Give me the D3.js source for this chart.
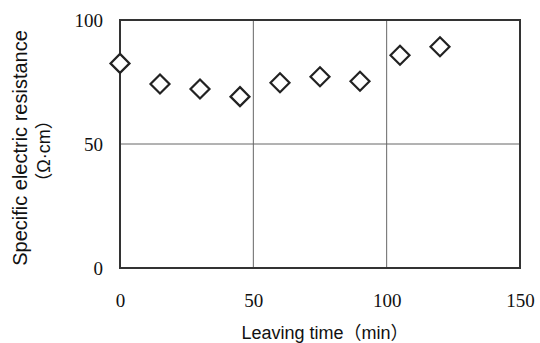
<!DOCTYPE html>
<html><head><meta charset="utf-8">
<script src="https://cdn.jsdelivr.net/npm/d3@7"></script>
<style>body{margin:0;background:#fff}svg{display:block}</style>
</head><body>
<script>
const times = [0, 15, 30, 45, 60, 75, 90, 105, 120];
const resistance = [82.5, 74.2, 72.2, 69.1, 74.7, 77.1, 75.3, 85.8, 89.2];
const xTicks = [0, 50, 100, 150];
const yTicks = [0, 50, 100];
const xTitle = "Leaving time（min）";
const yTitle1 = "Specific electric resistance";
const yTitle2 = "（Ω·cm）";

const W = 540, H = 343;
const svg = d3.select("body").append("svg").attr("width", W).attr("height", H);
const x = d3.scaleLinear().domain([0, 150]).range([120, 520]);
const y = d3.scaleLinear().domain([0, 100]).range([268, 20]);

// grid lines
svg.append("g").selectAll("line.gx").data([50, 100]).join("line")
  .attr("x1", d => x(d)).attr("x2", d => x(d)).attr("y1", y(0)).attr("y2", y(100))
  .attr("stroke", "#666").attr("stroke-width", 1);
svg.append("g").selectAll("line.gy").data([50]).join("line")
  .attr("x1", x(0)).attr("x2", x(150)).attr("y1", d => y(d)).attr("y2", d => y(d))
  .attr("stroke", "#666").attr("stroke-width", 1);

// frame
svg.append("rect").attr("x", x(0)).attr("y", y(100)).attr("width", x(150) - x(0)).attr("height", y(0) - y(100))
  .attr("fill", "none").attr("stroke", "#333").attr("stroke-width", 2);

// axes labels via d3 axes (no lines)
const xAxis = svg.append("g").attr("transform", `translate(0,${y(0)})`)
  .call(d3.axisBottom(x).tickValues(xTicks).tickSize(0).tickPadding(0).tickFormat(d3.format("d")));
xAxis.select(".domain").remove();
xAxis.selectAll("text").attr("dy", null).attr("y", 39)
  .attr("font-family", "'Liberation Serif', 'DejaVu Serif', serif").attr("font-size", 19).attr("fill", "#111");

const yAxis = svg.append("g").attr("transform", `translate(${x(0)},0)`)
  .call(d3.axisLeft(y).tickValues(yTicks).tickSize(0).tickPadding(17).tickFormat(d3.format("d")));
yAxis.select(".domain").remove();
yAxis.selectAll("text").attr("dy", "0.35em")
  .attr("font-family", "'Liberation Serif', 'DejaVu Serif', serif").attr("font-size", 19).attr("fill", "#111");

// points (diamonds)
const s = 9.5;
svg.append("g").selectAll("path").data(times.map((t, i) => [t, resistance[i]])).join("path")
  .attr("d", d => {
    const cx = x(d[0]), cy = y(d[1]);
    return `M${cx},${cy - s}L${cx + s},${cy}L${cx},${cy + s}L${cx - s},${cy}Z`;
  })
  .attr("fill", "#fff").attr("stroke", "#222").attr("stroke-width", 2.2);

// titles
svg.append("text").attr("x", 325).attr("y", 339).attr("text-anchor", "middle")
  .attr("font-family", "'Liberation Sans', 'Noto Sans CJK JP', sans-serif").attr("font-size", 18).attr("fill", "#111")
  .text(xTitle);
svg.append("text").attr("transform", "translate(27,148) rotate(-90)").attr("text-anchor", "middle")
  .attr("font-family", "'Liberation Sans', 'Noto Sans CJK JP', sans-serif").attr("font-size", 20).attr("fill", "#111")
  .text(yTitle1);
svg.append("text").attr("transform", "translate(50,151) rotate(-90)").attr("text-anchor", "middle")
  .attr("font-family", "'Liberation Sans', 'Noto Sans CJK JP', sans-serif").attr("font-size", 18).attr("fill", "#111")
  .text(yTitle2);
</script>
</body></html>
